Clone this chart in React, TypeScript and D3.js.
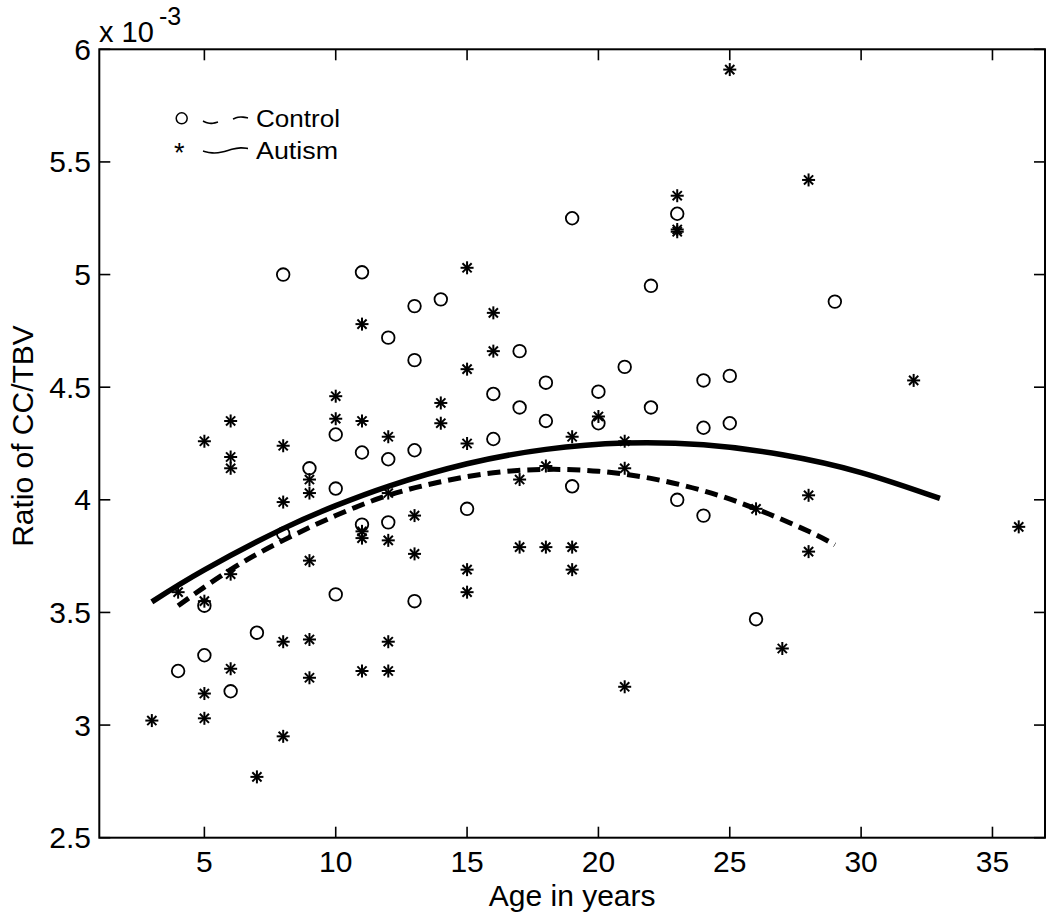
import React from "react";
import * as d3 from "d3";

// Values are in units of 10^-3
const controlAges = [4, 5, 5, 6, 7, 8, 8, 9, 10, 10, 10, 11, 11, 11, 12, 12, 12, 13, 13, 13, 13, 14, 15, 16, 16, 17, 17, 18, 18, 19, 19, 20, 20, 21, 22, 22, 23, 23, 24, 24, 24, 25, 25, 26, 29];
const controlRatios = [3.24, 3.53, 3.31, 3.15, 3.41, 5.0, 3.85, 4.14, 4.29, 4.05, 3.58, 5.01, 4.21, 3.89, 4.72, 4.18, 3.9, 4.86, 4.62, 4.22, 3.55, 4.89, 3.96, 4.47, 4.27, 4.66, 4.41, 4.52, 4.35, 5.25, 4.06, 4.48, 4.34, 4.59, 4.95, 4.41, 5.27, 4.0, 4.53, 4.32, 3.93, 4.55, 4.34, 3.47, 4.88];

const autismAges = [3, 4, 5, 5, 5, 5, 6, 6, 6, 6, 6, 7, 8, 8, 8, 8, 9, 9, 9, 9, 9, 10, 10, 11, 11, 11, 11, 11, 12, 12, 12, 12, 12, 13, 13, 14, 14, 15, 15, 15, 15, 15, 16, 16, 17, 17, 18, 18, 19, 19, 19, 20, 21, 21, 21, 23, 23, 23, 25, 26, 27, 28, 28, 28, 32, 36];
const autismRatios = [3.02, 3.59, 4.26, 3.55, 3.14, 3.03, 4.35, 4.19, 4.14, 3.67, 3.25, 2.77, 4.24, 3.99, 3.37, 2.95, 4.09, 4.03, 3.73, 3.38, 3.21, 4.46, 4.36, 4.78, 4.35, 3.86, 3.83, 3.24, 4.28, 4.03, 3.82, 3.37, 3.24, 3.93, 3.76, 4.43, 4.34, 5.03, 4.58, 4.25, 3.69, 3.59, 4.83, 4.66, 4.09, 3.79, 4.15, 3.79, 4.28, 3.79, 3.69, 4.37, 4.26, 4.14, 3.17, 5.35, 5.2, 5.19, 5.91, 3.96, 3.34, 5.42, 4.02, 3.77, 4.53, 3.88];

// Fitted curves
const controlFitAges = [4, 6, 8, 10, 12, 14, 16, 18, 20, 22, 24, 26, 28, 29];
const controlFitValues = [3.53, 3.69, 3.82, 3.93, 4.02, 4.08, 4.12, 4.135, 4.127, 4.095, 4.04, 3.96, 3.86, 3.8];
const autismFitAges = [3, 5, 8, 10, 12, 15, 18, 21, 24, 27, 30, 33];
const autismFitValues = [3.547, 3.689, 3.872, 3.974, 4.06, 4.16, 4.224, 4.252, 4.244, 4.2, 4.121, 4.006];

const xTicks = [5, 10, 15, 20, 25, 30, 35];
const yTicks = [2.5, 3, 3.5, 4, 4.5, 5, 5.5, 6];

const W = 1050;
const H = 919;
const L = 99.3, R = 1045, T = 49.3, B = 837.7;
const FONT = "Arial, 'Liberation Sans', Helvetica, sans-serif";

export default function App() {
  const x = d3.scaleLinear().domain([1, 37]).range([L, R]);
  const y = d3.scaleLinear().domain([2.5, 6]).range([B, T]);

  const line = d3
    .line<[number, number]>()
    .x((d) => x(d[0]))
    .y((d) => y(d[1]))
    .curve(d3.curveNatural);

  const controlFit = line(controlFitAges.map((a, i) => [a, controlFitValues[i]]) as [number, number][]) || "";
  const autismFit = line(autismFitAges.map((a, i) => [a, autismFitValues[i]]) as [number, number][]) || "";

  const star = (cx: number, cy: number, key: string | number) => {
    const r = 6.5;
    const d = 4.6;
    return (
      <g key={key} stroke="#000" strokeWidth={2} strokeLinecap="butt">
        <line x1={cx - r} y1={cy} x2={cx + r} y2={cy} />
        <line x1={cx} y1={cy - r} x2={cx} y2={cy + r} />
        <line x1={cx - d} y1={cy - d} x2={cx + d} y2={cy + d} />
        <line x1={cx - d} y1={cy + d} x2={cx + d} y2={cy - d} />
      </g>
    );
  };

  const legendLine = d3.line<[number, number]>().curve(d3.curveBasis);
  const ctlDash1 = legendLine([[203, 121], [208, 123.5], [213, 123.5], [218, 122]]) || "";
  const ctlDash2 = legendLine([[233, 119], [238, 117], [243, 117], [248, 118]]) || "";
  const autWave = legendLine([[203, 151], [212, 153.5], [222, 152.5], [232, 149], [241, 147.5], [248, 148.5]]) || "";

  return (
    <svg
      width={W}
      height={H}
      viewBox={`0 0 ${W} ${H}`}
      style={{ position: "absolute", left: 0, top: 0, background: "#fff" }}
    >
      <rect x={0} y={0} width={W} height={H} fill="#fff" />

      {/* ticks (inward, all four sides) */}
      {xTicks.map((t) => (
        <g key={"xt" + t} stroke="#000" strokeWidth={1.6}>
          <line x1={x(t)} y1={B} x2={x(t)} y2={B - 11} />
          <line x1={x(t)} y1={T} x2={x(t)} y2={T + 11} />
        </g>
      ))}
      {yTicks.map((t) => (
        <g key={"yt" + t} stroke="#000" strokeWidth={1.6}>
          <line x1={L} y1={y(t)} x2={L + 11} y2={y(t)} />
          <line x1={R} y1={y(t)} x2={R - 11} y2={y(t)} />
        </g>
      ))}

      {/* tick labels */}
      {xTicks.map((t) => (
        <text key={"xl" + t} x={x(t)} y={872} textAnchor="middle" fontFamily={FONT} fontSize={30} fill="#000">
          {t}
        </text>
      ))}
      {yTicks.map((t) => (
        <text key={"yl" + t} x={91} y={y(t) + 10.5} textAnchor="end" fontFamily={FONT} fontSize={30} fill="#000">
          {t}
        </text>
      ))}

      {/* exponent */}
      <text x={99} y={42} fontFamily={FONT} fontSize={29} fill="#000">
        x 10
      </text>
      <text x={159} y={25} fontFamily={FONT} fontSize={25} fill="#000">
        -3
      </text>

      {/* axis labels */}
      <text x={(L + R) / 2} y={906} textAnchor="middle" fontFamily={FONT} fontSize={30} fill="#000">
        Age in years
      </text>
      <text
        transform={`translate(33, ${436}) rotate(-90)`}
        textAnchor="middle"
        fontFamily={FONT}
        fontSize={30}
        fill="#000"
      >
        Ratio of CC/TBV
      </text>

      {/* points */}
      {controlAges.map((a, i) => (
        <circle key={"c" + i} cx={x(a)} cy={y(controlRatios[i])} r={6.3} fill="none" stroke="#000" strokeWidth={1.8} />
      ))}
      {autismAges.map((a, i) => star(x(a), y(autismRatios[i]), "s" + i))}

      {/* fitted curves */}
      <path d={autismFit} fill="none" stroke="#000" strokeWidth={5.5} />
      <path d={controlFit} fill="none" stroke="#000" strokeWidth={5} strokeDasharray="13 7" />

      {/* box */}
      <rect x={L} y={T} width={R - L} height={B - T} fill="none" stroke="#000" strokeWidth={2} />

      {/* legend */}
      <circle cx={181.7} cy={118.3} r={5.5} fill="none" stroke="#000" strokeWidth={1.5} />
      <path d={ctlDash1} fill="none" stroke="#000" strokeWidth={1.6} />
      <path d={ctlDash2} fill="none" stroke="#000" strokeWidth={1.6} />
      <text x={256} y={127} fontFamily={FONT} fontSize={23} fill="#000" textLength={84} lengthAdjust="spacingAndGlyphs">
        Control
      </text>
      <text x={174} y={162} fontFamily={FONT} fontSize={27} fill="#000">
        *
      </text>
      <path d={autWave} fill="none" stroke="#000" strokeWidth={1.6} />
      <text x={256} y={159} fontFamily={FONT} fontSize={23} fill="#000" textLength={82} lengthAdjust="spacingAndGlyphs">
        Autism
      </text>
    </svg>
  );
}
